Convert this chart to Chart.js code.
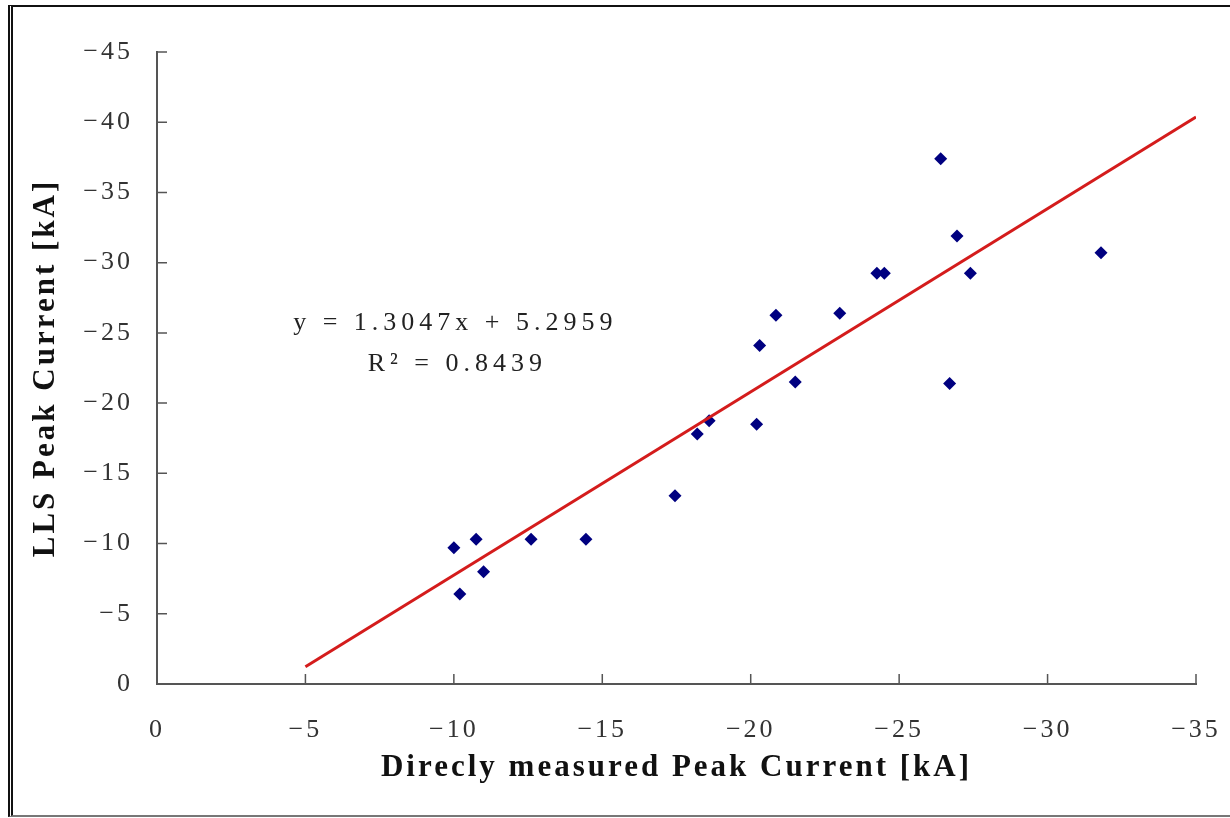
<!DOCTYPE html>
<html>
<head>
<meta charset="utf-8">
<script src="https://cdn.jsdelivr.net/npm/chart.js@4"></script>
<style>
  html, body { margin: 0; padding: 0; background: #fff; }
  #wrap { position: relative; width: 1230px; height: 818px; overflow: hidden; }
  #frame {
    position: absolute; left: 8px; top: 5px; right: -10px; bottom: 1px;
    border-top: 2px solid #111;
    border-left: 5px double #111;
    border-bottom: 2px solid #777;
  }
  #peakChart { position: absolute; left: 0; top: 0; }
</style>
</head>
<body>
<div id="wrap">
  <div id="frame"></div>
  <canvas id="peakChart" width="1230" height="818"></canvas>
</div>
<script>
// Peak currents [kA], directly measured vs. LLS
const measuredPeak = [-10.0, -10.2, -10.75, -11.0, -12.6, -14.45, -17.45, -18.2, -18.6, -20.2, -20.3,
                      -20.85, -21.5, -23.0, -24.25, -24.5, -26.4, -26.7, -26.95, -27.4, -31.8];
const llsPeak = [-9.7, -6.4, -10.3, -8.0, -10.3, -10.3, -13.4, -17.8, -18.75, -18.5, -24.1,
                 -26.25, -21.5, -26.4, -29.25, -29.25, -37.4, -21.4, -31.9, -29.25, -30.7];

// linear fit shown on the chart
const slope = 1.3047;
const intercept = 5.2959;
const rSquared = 0.8439;
const fitRange = [-5, -35];

const xTickStep = 5;
const yTickStep = 5;
const xRange = [-35, 0];
const yRange = [-45, 0];

// where the fit equation is written (data units)
const eqAnchorX = -9.95;
const eqAnchorY = [-25.7, -22.8];

const points = measuredPeak.map((x, i) => ({ x: x, y: llsPeak[i] }));
const fitLine = fitRange.map(x => ({ x: x, y: slope * x + intercept }));

const minusLabel = v => v === 0 ? '0' : '\u2212' + Math.abs(v);

// text in this chart is spaced out a bit
const spacingPlugin = {
    id: 'spacing',
    beforeDraw(chart) {
        chart.ctx.letterSpacing = '3px';
    }
};

// short tick marks pointing into the plot area
const innerTicks = {
    id: 'innerTicks',
    afterDraw(chart) {
        const { ctx, chartArea, scales: { x, y } } = chart;
        ctx.save();
        ctx.strokeStyle = '#555';
        ctx.lineWidth = 1.5;
        ctx.beginPath();
        x.ticks.forEach(t => {
            const px = x.getPixelForValue(t.value);
            ctx.moveTo(px, chartArea.bottom);
            ctx.lineTo(px, chartArea.bottom - 10);
        });
        y.ticks.forEach(t => {
            const py = y.getPixelForValue(t.value);
            ctx.moveTo(chartArea.left, py);
            ctx.lineTo(chartArea.left + 10, py);
        });
        ctx.stroke();
        ctx.restore();
    }
};

// regression equation and R²
const equationText = {
    id: 'equationText',
    afterDatasetsDraw(chart) {
        const { ctx, scales: { x, y } } = chart;
        const px = x.getPixelForValue(eqAnchorX);
        ctx.save();
        ctx.letterSpacing = '5px';
        ctx.font = '26px "Liberation Serif", serif';
        ctx.fillStyle = '#222';
        ctx.textAlign = 'center';
        ctx.textBaseline = 'middle';
        ctx.fillText('y = ' + slope.toFixed(4) + 'x + ' + intercept.toFixed(4), px + 3, y.getPixelForValue(eqAnchorY[0]));
        ctx.fillText('R\u00b2 = ' + rSquared.toFixed(4), px + 5, y.getPixelForValue(eqAnchorY[1]));
        ctx.restore();
    }
};

const tickFont = { family: '"Liberation Serif", serif', size: 26 };
const titleFont = { family: '"Liberation Serif", serif', size: 31, weight: 'bold' };

const ctx = document.getElementById('peakChart').getContext('2d');
const peakChart = new Chart(ctx, {
    type: 'scatter',
    data: {
        datasets: [{
            type: 'line',
            label: 'Linear fit',
            data: fitLine,
            borderColor: '#d41c1c',
            borderWidth: 3,
            pointRadius: 0,
            fill: false,
            tension: 0
        }, {
            label: 'Peak current',
            data: points,
            pointStyle: 'rectRot',
            pointRadius: 6.5,
            pointBackgroundColor: '#000080',
            pointBorderColor: '#000080',
            pointBorderWidth: 0
        }]
    },
    options: {
        responsive: false,
        animation: false,
        layout: { padding: { top: 52, right: 34, bottom: 0, left: 0 } },
        plugins: {
            legend: { display: false },
            tooltip: { enabled: false }
        },
        scales: {
            x: {
                type: 'linear',
                min: xRange[0],
                max: xRange[1],
                reverse: true,
                grid: { display: false, drawTicks: false },
                border: { display: true, color: '#555', width: 2 },
                ticks: {
                    stepSize: xTickStep,
                    padding: 31,
                    color: '#333',
                    font: tickFont,
                    maxRotation: 0,
                    callback: minusLabel
                },
                title: {
                    display: true,
                    text: 'Direcly measured Peak Current [kA]',
                    color: '#111',
                    font: titleFont,
                    padding: { top: 0, bottom: 31 }
                },
                afterFit(scale) {
                    scale.height = 134;
                    scale.paddingLeft = 0;
                    scale.paddingRight = 0;
                }
            },
            y: {
                type: 'linear',
                min: yRange[0],
                max: yRange[1],
                reverse: true,
                grid: { display: false, drawTicks: false },
                border: { display: true, color: '#555', width: 2 },
                ticks: {
                    stepSize: yTickStep,
                    padding: 24,
                    color: '#333',
                    font: tickFont,
                    callback: minusLabel
                },
                title: {
                    display: true,
                    text: 'LLS Peak Current [kA]',
                    color: '#111',
                    font: titleFont,
                    padding: { top: 27, bottom: 0 }
                },
                afterFit(scale) {
                    scale.width = 157;
                    scale.paddingTop = 0;
                    scale.paddingBottom = 0;
                }
            }
        }
    },
    plugins: [spacingPlugin, innerTicks, equationText]
});
</script>
</body>
</html>
